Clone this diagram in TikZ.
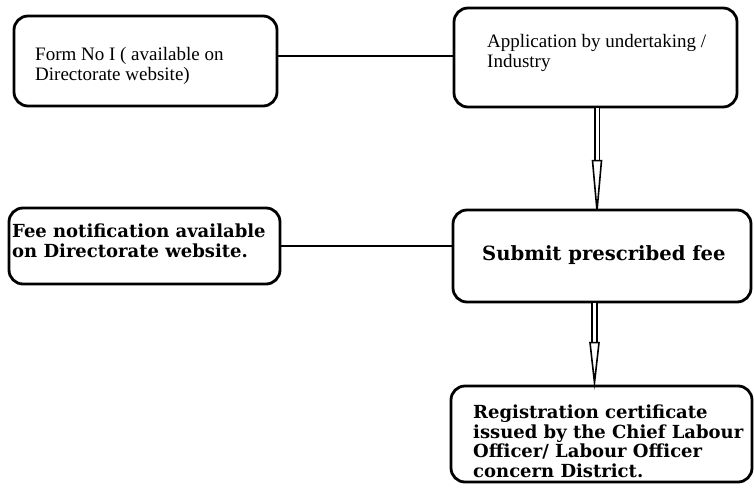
\documentclass[tikz,border=0pt]{standalone}
\usepackage{fontspec}
\setmainfont{Liberation Serif}
\newfontfamily\boldserif{DejaVu Serif}
\usetikzlibrary{calc}
\begin{document}
\begin{tikzpicture}[x=1pt,y=-1pt,
  box/.style={draw, line width=2.8pt, rounded corners=14pt, inner sep=0pt},
  plain/.style={anchor=base west, inner sep=0pt, font=\fontsize{19}{20}\selectfont},
  heavy/.style={anchor=base west, inner sep=0pt, font=\boldserif\bfseries\fontsize{18}{20}\selectfont},
  heavylarge/.style={heavy, font=\boldserif\bfseries\fontsize{19.6}{22}\selectfont},
  link/.style={line width=2pt},
  shaft/.style={draw, double, double distance=3pt, line width=1.7pt},
  tiphead/.style={draw, line width=1.6pt, fill=white, line join=miter}]
\useasboundingbox (0,0) rectangle (754,487);
\fill[white] (0,0) rectangle (754,487);

% boxes
\node[box, minimum width=263pt, minimum height=90pt] (form) at (145.5,61) {};
\node[box, minimum width=283pt, minimum height=99pt] (app) at (595.5,57.5) {};
\node[box, minimum width=271pt, minimum height=76pt] (fee) at (144.5,246) {};
\node[box, minimum width=298pt, minimum height=92pt] (sub) at (602,256) {};
\node[box, minimum width=301pt, minimum height=96pt] (reg) at (601.5,434) {};

% box texts
\node[plain] (formA) at (35,60) {Form No I ( available on};
\node[plain] (formB) at (35,80) {Directorate website)};
\node[plain] (appA) at (487,48) {Application by undertaking /};
\node[plain] (appB) at (487,67.5) {Industry};
\node[heavy] (feeA) at (12,237) {Fee notification available};
\node[heavy] (feeB) at (12,257) {on Directorate website.};
\node[heavylarge] (subA) at (482,260) {Submit prescribed fee};
\node[heavy] (regA) at (473,418) {Registration certificate};
\node[heavy] (regB) at (473,438) {issued by the Chief Labour};
\node[heavy] (regC) at (473,457.5) {Officer/ Labour Officer};
\node[heavy] (regD) at (473,477) {concern District.};

% plain links
\draw[link] ([yshift=5pt]form.east) -- ([yshift=5pt]form.east -| app.west);
\draw[link] (fee.east) -- (fee.east -| sub.west);

% double-shaft arrows with long hollow heads
\coordinate (a1top) at ($(app.south)+(1.5,0)$);
\coordinate (a1end) at (a1top |- sub.north);
\draw[shaft] (a1top) -- ($(a1end)+(0,-48)$);
\draw[tiphead] ($(a1end)+(-4.5,-48)$) -- ($(a1end)+(4.5,-48)$) -- ($(a1end)+(0,2)$) -- cycle;

\coordinate (a2top) at ($(sub.south)+(-7.5,0)$);
\coordinate (a2end) at (a2top |- reg.north);
\draw[shaft] (a2top) -- ($(a2end)+(0,-42)$);
\draw[tiphead] ($(a2end)+(-4.5,-42)$) -- ($(a2end)+(4.5,-42)$) -- ($(a2end)+(0,-2)$) -- cycle;
\end{tikzpicture}
\end{document}
